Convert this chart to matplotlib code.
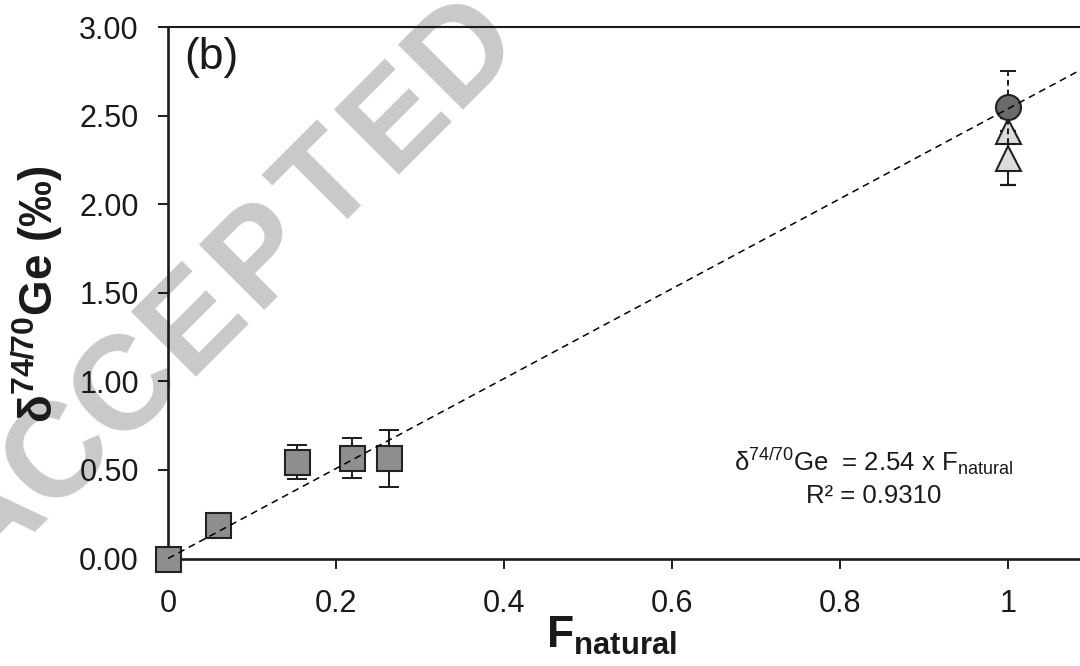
import matplotlib

matplotlib.use("Agg")
import matplotlib.pyplot as plt
from matplotlib.ticker import FormatStrFormatter
import numpy as np

# squares: low F_natural experiments
f_squares = [0.0, 0.060, 0.154, 0.219, 0.263]
d_squares = [0.0, 0.192, 0.545, 0.566, 0.565]
err_squares = [0.0, 0.0, 0.097, 0.114, 0.162]

# F_natural = 1 points
f_circle = [1.0]
d_circle = [2.548]
err_circle = [0.205]

f_triangles = [1.0, 1.0]
d_triangles = [2.417, 2.263]
err_triangles = [0.073, 0.154]

slope = 2.54
r_squared = "0.9310"

x_ticks = [0, 0.2, 0.4, 0.6, 0.8, 1.0]
x_tick_labels = ["0", "0.2", "0.4", "0.6", "0.8", "1"]
y_ticks = [0.0, 0.5, 1.0, 1.5, 2.0, 2.5, 3.0]
x_max = 1.1

watermark = "ACCEPTED"

plt.rcParams["font.family"] = ["Liberation Sans", "DejaVu Sans"]
plt.rcParams["mathtext.fontset"] = "custom"
plt.rcParams["mathtext.rm"] = "Liberation Sans"
plt.rcParams["mathtext.it"] = "Liberation Sans:italic"
plt.rcParams["mathtext.bf"] = "Liberation Sans:bold"

W, H = 1080, 666
fig = plt.figure(figsize=(W / 100, H / 100), dpi=100)

left_px, right_px = 168, 168 + 840 * x_max
bottom_px, top_px = 558.5, 27.3
ax = fig.add_axes([left_px / W, 1 - bottom_px / H,
                   (right_px - left_px) / W, (bottom_px - top_px) / H])
ax.set_facecolor("none")

# watermark letters, spaced along a 45 degree line, behind everything
wm_size = 96
em_px = wm_size * 100 / 72
mid_x, mid_y = 252, 244          # centre of the 5th letter, in pixels
step = 67.4                      # per-letter shift in x and y
lift = 0.365 * em_px * 0.7071    # centre -> baseline shift
for i, ch in enumerate(watermark):
    cx = mid_x + (i - 4) * step
    cy = mid_y - (i - 4) * step
    fig.text((cx + lift) / W, 1 - (cy + lift) / H, ch, rotation=45,
             rotation_mode="anchor", ha="center", va="baseline",
             fontsize=wm_size, fontweight="bold", color="#c8c9cb", zorder=-1)

ax.errorbar(f_squares, d_squares, yerr=err_squares, fmt="none", ecolor="#1a1a1a",
            elinewidth=1.4, capsize=7, capthick=1.4, zorder=3, clip_on=False)
ax.plot(f_squares, d_squares, "s", ms=18, mfc="#8e8e8e", mec="#222222", mew=1.5,
        zorder=4, clip_on=False)

ax.errorbar(f_triangles, d_triangles, yerr=err_triangles, fmt="none", ecolor="#1a1a1a",
            elinewidth=1.4, capsize=6, capthick=1.6, zorder=3)
ax.plot(f_triangles, d_triangles, "^", ms=18, mfc="#dcdcdc", mec="#222222", mew=1.5, zorder=4)

eb = ax.errorbar(f_circle, d_circle, yerr=err_circle, fmt="none", ecolor="#1a1a1a",
                 elinewidth=1.4, capsize=5.5, capthick=1.4, zorder=5)
eb[2][0].set_linestyle((0, (3, 2)))
ax.plot(f_circle, d_circle, "o", ms=18, mfc="#6a6a6a", mec="#222222", mew=1.5, zorder=6)

fit_x = np.array([0.0, x_max])
ax.plot(fit_x, slope * fit_x, color="black", lw=1.1, ls=(0, (4.5, 3.2)), zorder=7)

ax.set_xlim(0, x_max)
ax.set_ylim(0, 3.0)
ax.set_xticks(x_ticks)
ax.set_xticklabels(x_tick_labels)
ax.set_yticks(y_ticks)
ax.yaxis.set_major_formatter(FormatStrFormatter("%.2f"))

for side in ["left", "bottom"]:
    ax.spines[side].set_linewidth(1.9)
ax.spines["top"].set_linewidth(1.5)
ax.spines["right"].set_visible(False)
for spine in ax.spines.values():
    spine.set_color("#1a1a1a")

ax.tick_params(axis="both", direction="out", length=7, width=1.4,
               labelsize=22, colors="#1a1a1a")
ax.tick_params(axis="y", pad=14)
ax.tick_params(axis="x", pad=15)

ax.text(0.0465, 0.944, "(b)", transform=ax.transAxes, ha="center", va="center",
        fontsize=32, color="#1a1a1a")

ax.text(0.764, 0.165, "δ$^{74/70}$Ge  = %.2f x F$_{\\mathrm{natural}}$" % slope,
        transform=ax.transAxes, ha="center", va="baseline", fontsize=18.5, color="#1a1a1a")
ax.text(0.764, 0.105, "R² = " + r_squared, transform=ax.transAxes,
        ha="center", va="baseline", fontsize=18.5, color="#1a1a1a")

fig.text(612 / W, (H - 648) / H, "F$_{\\mathbf{natural}}$", ha="center", va="baseline",
         fontsize=32, fontweight="bold", color="#1a1a1a")
fig.text(37 / W, 1 - 294 / H, "δ$^{\\mathbf{74/70}}$Ge (‰)", rotation=90,
         ha="center", va="center", fontsize=33, fontweight="bold", color="#1a1a1a")

fig.savefig("out.png", dpi=100)
plt.close(fig)
